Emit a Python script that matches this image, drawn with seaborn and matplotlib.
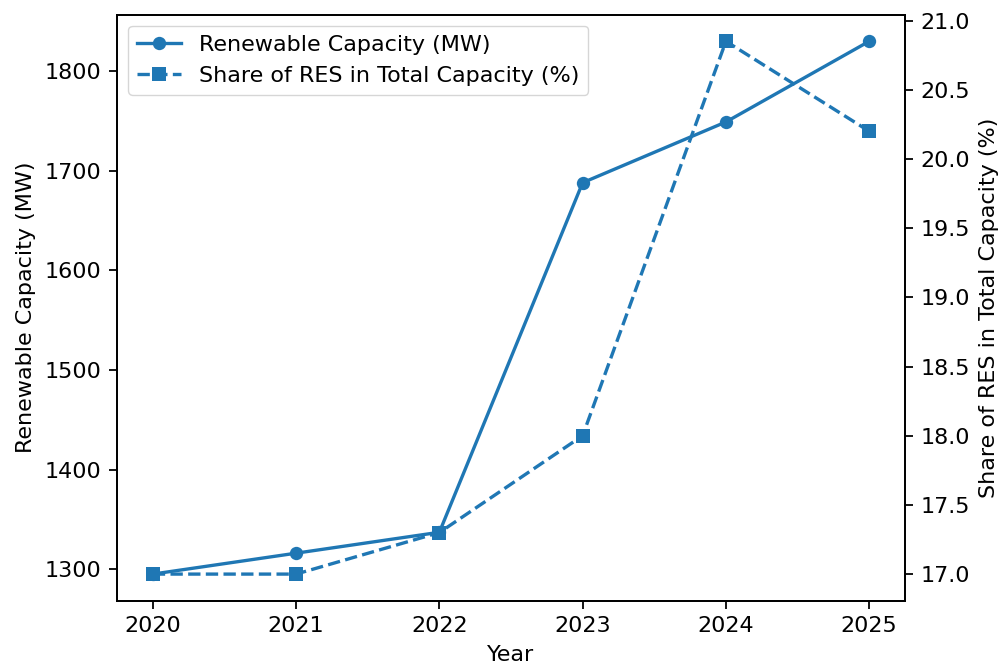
import pandas as pd
import matplotlib.pyplot as plt
import seaborn as sns

years = [2020, 2021, 2022, 2023, 2024, 2025]
capacity_mw = [1295, 1316, 1337, 1688, 1749, 1830]
res_share = [17.0, 17.0, 17.3, 18.0, 20.85, 20.2]

df = pd.DataFrame({"year": years, "capacity": capacity_mw, "share": res_share})

# matplotlib look, scaled up ~1.6x
scale = 1.6
plt.rcParams["font.family"] = ["DejaVu Sans"]
plt.rcParams["font.size"] = 10 * scale
plt.rcParams["axes.linewidth"] = 0.8 * scale
plt.rcParams["axes.labelpad"] = 4 * scale
for ax_name in ["xtick", "ytick"]:
    plt.rcParams[f"{ax_name}.major.size"] = 3.5 * scale
    plt.rcParams[f"{ax_name}.major.width"] = 0.8 * scale
    plt.rcParams[f"{ax_name}.major.pad"] = 3.5 * scale

color = "#1f77b4"

fig, ax1 = plt.subplots(figsize=(10, 6.66), dpi=100)
sns.lineplot(data=df, x="year", y="capacity", ax=ax1, color=color, marker="o",
             markersize=6 * scale, markeredgewidth=0, linewidth=1.5 * scale,
             label="Renewable Capacity (MW)", legend=False)
ax2 = ax1.twinx()
sns.lineplot(data=df, x="year", y="share", ax=ax2, color=color, marker="s",
             markersize=6 * scale, markeredgewidth=0, linewidth=1.5 * scale,
             linestyle="--", label="Share of RES in Total Capacity (%)",
             legend=False)

ax1.set_xlabel("Year")
ax1.set_ylabel("Renewable Capacity (MW)")
ax2.set_ylabel("Share of RES in Total Capacity (%)")
ax1.set_xticks(years)

h1, l1 = ax1.get_legend_handles_labels()
h2, l2 = ax2.get_legend_handles_labels()
ax1.legend(h1 + h2, l1 + l2, loc="upper left")

plt.subplots_adjust(left=0.117, right=0.905, top=0.978, bottom=0.098)
plt.savefig("out.png", dpi=100)
plt.close()
